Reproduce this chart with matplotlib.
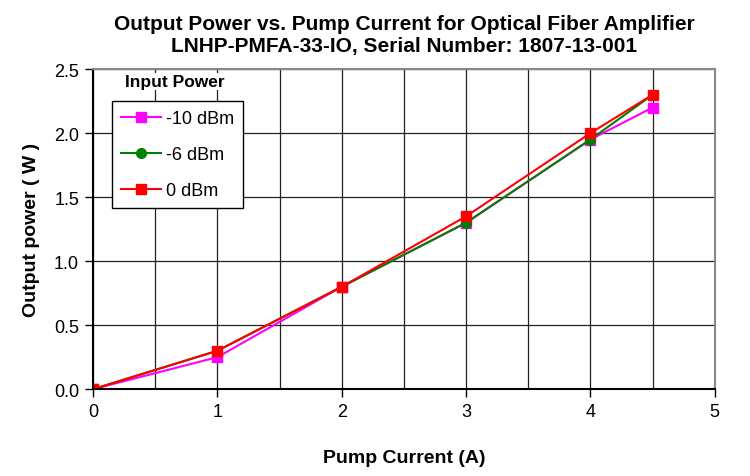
import matplotlib
matplotlib.use("Agg")
import matplotlib.pyplot as plt
import numpy as np

plt.rcParams['font.family'] = ['Liberation Sans', 'DejaVu Sans']

current = [0, 1, 2, 3, 4, 4.5]
power_m10 = [0.0, 0.25, 0.8, 1.3, 1.95, 2.2]
power_m6 = [0.0, 0.3, 0.8, 1.3, 1.95, 2.3]
power_0 = [0.0, 0.3, 0.8, 1.35, 2.0, 2.3]
labels = ['-10 dBm', '-6 dBm', '0 dBm']

fig = plt.figure(figsize=(7.5, 4.77), dpi=100)
ax = fig.add_axes([0.124, 0.182, 0.829, 0.671])

ax.plot(current, power_m10, color='#ff00ff', marker='s', markersize=7, lw=1.5, label=labels[0])
ax.plot(current, power_m6, color='#008000', marker='o', markersize=7, lw=1.5, label=labels[1])
ax.plot(current, power_0, color='#ff0000', marker='s', markersize=7, lw=1.5, label=labels[2])

ax.set_xlim(0, 5)
ax.set_ylim(0, 2.5)
ax.set_xticks(np.arange(0, 6, 1))
ax.set_xticks(np.arange(0, 5.01, 0.5), minor=True)
ax.set_yticks(np.arange(0, 2.51, 0.5))
ax.set_yticklabels(['%.1f' % v for v in np.arange(0, 2.51, 0.5)])
ax.grid(True, which='both', color='#222222', lw=0.9)
ax.set_axisbelow(True)
ax.tick_params(which='major', direction='out', length=6, width=1, labelsize=13, pad=4)
ax.tick_params(which='minor', length=0)
for s in ['top', 'right']:
    ax.spines[s].set_color('#888888')
    ax.spines[s].set_linewidth(1.5)
for s in ['left', 'bottom']:
    ax.spines[s].set_linewidth(1.5)

ax.set_xlabel('Pump Current (A)', fontsize=14, fontweight='bold', labelpad=21)
ax.set_ylabel('Output power ( W )', fontsize=14, fontweight='bold', labelpad=10)
ax.set_title('Output Power vs. Pump Current for Optical Fiber Amplifier\nLNHP-PMFA-33-IO, Serial Number: 1807-13-001',
             fontsize=15, fontweight='bold', pad=13, linespacing=1.2)

leg = ax.legend(loc='upper left', bbox_to_anchor=(0.0305, 0.9), fontsize=13, handlelength=2.2,
                frameon=True, fancybox=False, edgecolor='black', framealpha=1,
                labelspacing=1.05, borderpad=0.5, handletextpad=0.3, borderaxespad=0)
leg.get_frame().set_linewidth(1)
ax.text(0.131, 0.985, 'Input Power', transform=ax.transAxes, fontsize=12.5, fontweight='bold',
        va='top', ha='center', bbox=dict(facecolor='white', edgecolor='none', pad=1))

fig.savefig('out.png', dpi=100)
